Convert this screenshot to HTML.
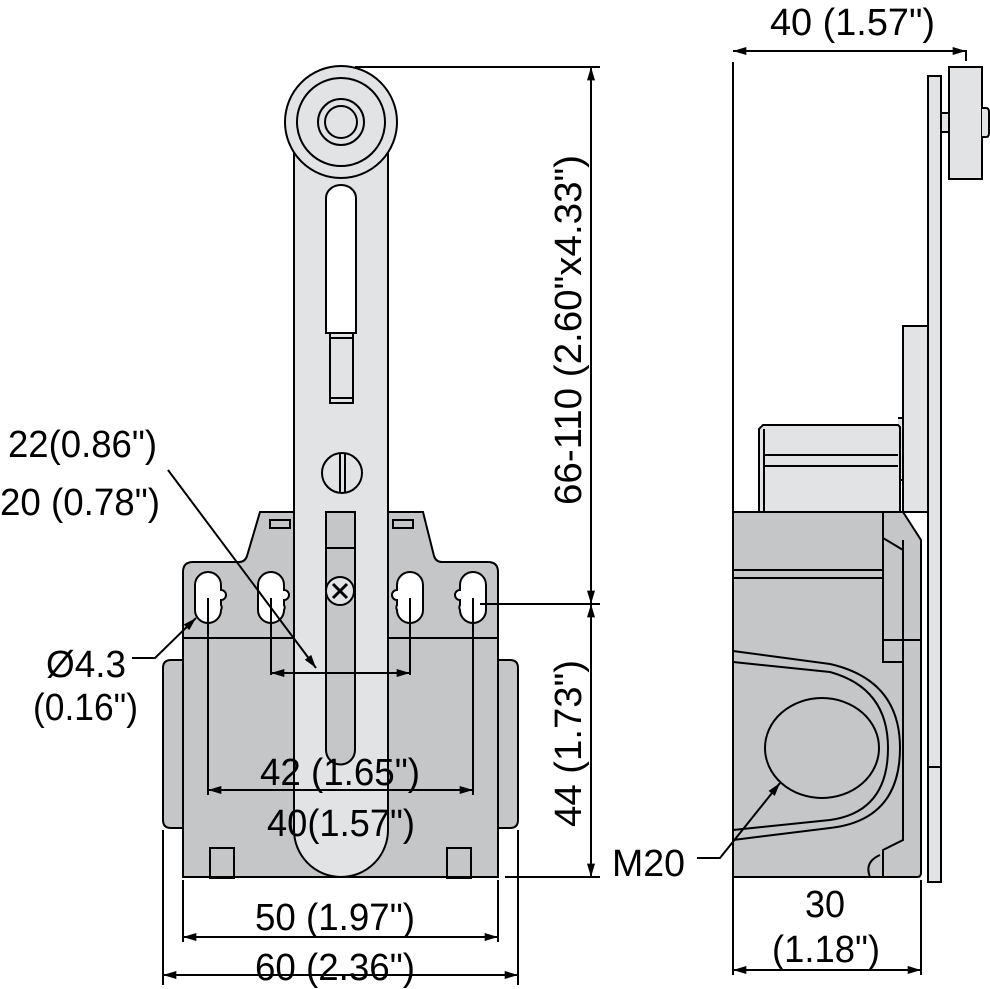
<!DOCTYPE html>
<html><head><meta charset="utf-8"><style>
html,body{margin:0;padding:0;background:#fff}
svg{display:block}
text{font-family:"Liberation Sans",sans-serif;font-size:38px;fill:#000}
</style></head><body>
<svg width="990" height="989" viewBox="0 0 990 989" xmlns="http://www.w3.org/2000/svg">
<defs>
<marker id="a" viewBox="0 0 10 6" refX="10" refY="3" markerWidth="22" markerHeight="8" markerUnits="userSpaceOnUse" orient="auto-start-reverse"><path d="M0,0L10,3L0,6z" fill="#000"/></marker>
</defs>
<g stroke="#000" stroke-width="2" fill="none">
<!-- FRONT VIEW body -->
<path d="M163,668 q0,-8 8,-8 h12 v168 h-12 q-8,0 -8,-8z" fill="#c5c6c8"/>
<path d="M518,668 q0,-8 -8,-8 h-12 v168 h12 q8,0 8,-8z" fill="#c5c6c8"/>
<path d="M260,512 h163 l11,44 q2,6 8,6 h46 q10,0 10,10 v305 h-315 v-305 q0,-10 10,-10 h46 q6,0 8,-6z" fill="#c5c6c8"/>
<path d="M183,638 h315" />
<path d="M270,520 h20 v8 h-20z M393,520 h20 v8 h-20z"/>
<rect x="210" y="848" width="24" height="30"/>
<rect x="447" y="848" width="24" height="30"/>
<!-- slots -->
<g fill="#fff">
<path d="M195,585 a13,13 0 0 1 26,0 v5 a5,5 0 0 1 0,10 v5 a5,5 0 0 1 0,5 v0 a13,13 0 0 1 -26,0z"/>
<path d="M258,585 a13,13 0 0 1 26,0 v5 a5,5 0 0 1 0,10 v5 a5,5 0 0 1 0,5 v0 a13,13 0 0 1 -26,0z"/>
<path d="M423,585 a13,13 0 0 0 -26,0 v5 a5,5 0 0 0 0,10 v5 a5,5 0 0 0 0,5 v0 a13,13 0 0 0 26,0z"/>
<path d="M486,585 a13,13 0 0 0 -26,0 v5 a5,5 0 0 0 0,10 v5 a5,5 0 0 0 0,5 v0 a13,13 0 0 0 26,0z"/>
</g>
<!-- lever -->
<path d="M294,140 h94 v690 a47,47 0 0 1 -94,0z" fill="#e2e3e5"/>
<path d="M326,512 h29 v238 a14.5,14.5 0 0 1 -29,0z" fill="#c5c6c8"/>
<path d="M326,548 h29"/>
<path d="M326,198 a15,13 0 0 1 30,0 v135 h-30z" fill="#fff"/>
<rect x="330" y="333" width="23" height="70" fill="#e2e3e5"/>
<path d="M330,338 h23 M330,398 h23"/>
<circle cx="342" cy="473" r="20" fill="#e2e3e5"/>
<path d="M340,454 v38 M345,454 v38" />
<circle cx="341" cy="122" r="56" fill="#e2e3e5"/>
<circle cx="341" cy="122" r="44" fill="#e2e3e5"/>
<circle cx="341" cy="122" r="23"/>
<circle cx="341" cy="122" r="16"/>
<circle cx="340" cy="591" r="14" fill="#e2e3e5"/>
<path d="M333,584 l14,14 M347,584 l-14,14" stroke-width="3"/>
<!-- front dims -->
<path d="M355,67 H600"/>
<path d="M480,604 H600 M505,877 H600"/>
<path d="M591,67 V604" marker-start="url(#a)" marker-end="url(#a)"/>
<path d="M591,604 V877" marker-start="url(#a)" marker-end="url(#a)"/>
<path d="M208,598 V795 M473,598 V795 M271,598 V675 M410,598 V675"/>
<path d="M208,790 H473" marker-start="url(#a)" marker-end="url(#a)"/>
<path d="M271,673 H410" marker-start="url(#a)" marker-end="url(#a)"/>
<path d="M168,470 L316,668" marker-end="url(#a)"/>
<path d="M132,658 H155 L196,618" marker-end="url(#a)"/>
<path d="M183,880 V942 M498,880 V942 M163,830 V985 M518,830 V985"/>
<path d="M183,937 H498" marker-start="url(#a)" marker-end="url(#a)"/>
<path d="M163,975 H518" marker-start="url(#a)" marker-end="url(#a)"/>
<!-- SIDE VIEW -->
<rect x="928" y="76" width="13" height="806" fill="#e2e3e5"/>
<path d="M928,767 h13"/>
<rect x="941" y="113" width="8" height="19" fill="#e2e3e5"/>
<rect x="949" y="67" width="33" height="112" fill="#e2e3e5"/>
<path d="M982,108 h4 q3,0 3,4 v21 q0,4 -3,4 h-4" fill="#e2e3e5"/>
<rect x="903" y="326" width="25" height="186" fill="#e2e3e5"/>
<path d="M898,418 h5 v62 h-5" fill="#e2e3e5"/>
<path d="M763,425 l-4,4 v83 h141 v-85 l-2,-2z" fill="#e2e3e5"/>
<path d="M764,455 h134 M764,466 h134 M764,429 v83"/>
<path d="M733,512 h150 l20,0 l18,28 v333 q0,4 -4,4 h-184z" fill="#c5c6c8"/>
<path d="M733,570 h150 M733,578 h150 M883,512 v150 h20 v-122 M883,538 l20,12 M883,640 h38 M903,550 v290 l-20,10 v27 M870,877 q-6,-15 10,-22"/>
<path d="M733,651 L830,664 Q900,680 900,748 Q900,820 830,828 L733,840"/>
<path d="M733,662 L830,672 Q888,688 888,748 Q888,812 830,820 L733,830"/>
<ellipse cx="822" cy="748" rx="57" ry="50"/>
<path d="M733,62 V975 M921,880 V975"/>
<path d="M733,51 H966 V61" marker-start="url(#a)"/>
<path d="M733,51 H966" marker-end="url(#a)" />
<path d="M733,970 H921" marker-start="url(#a)" marker-end="url(#a)"/>
<path d="M697,858 H720 L780,783" marker-end="url(#a)"/>
</g>
<!-- texts -->
<text x="770" y="35" textLength="165" lengthAdjust="spacingAndGlyphs">40 (1.57")</text>
<text x="255" y="930" textLength="160" lengthAdjust="spacingAndGlyphs">50 (1.97")</text>
<text x="255" y="980" textLength="160" lengthAdjust="spacingAndGlyphs">60 (2.36")</text>
<text x="260" y="785" textLength="160" lengthAdjust="spacingAndGlyphs">42 (1.65")</text>
<text x="267" y="836" textLength="148" lengthAdjust="spacingAndGlyphs">40(1.57")</text>
<text x="8" y="457" textLength="149" lengthAdjust="spacingAndGlyphs">22(0.86")</text>
<text x="0" y="515" textLength="160" lengthAdjust="spacingAndGlyphs">20 (0.78")</text>
<text x="46" y="677" textLength="80" lengthAdjust="spacingAndGlyphs">Ø4.3</text>
<text x="33" y="720" textLength="105" lengthAdjust="spacingAndGlyphs">(0.16")</text>
<text x="612" y="876" textLength="73" lengthAdjust="spacingAndGlyphs">M20</text>
<text x="805" y="917" textLength="40" lengthAdjust="spacingAndGlyphs">30</text>
<text x="772" y="962" textLength="108" lengthAdjust="spacingAndGlyphs">(1.18")</text>
<text transform="translate(581,505) rotate(-90)" textLength="350" lengthAdjust="spacingAndGlyphs">66-110 (2.60"x4.33")</text>
<text transform="translate(581,827) rotate(-90)" textLength="167" lengthAdjust="spacingAndGlyphs">44 (1.73")</text>
</svg>
</body></html>
